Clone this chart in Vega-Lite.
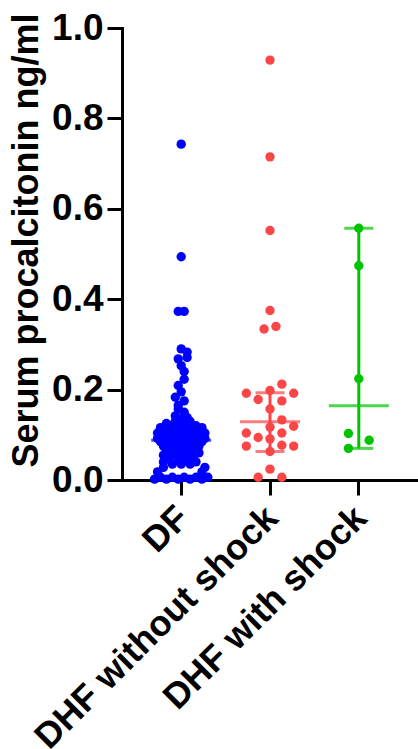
{
  "$schema": "https://vega.github.io/schema/vega-lite/v6.json",
  "width": 296,
  "height": 452,
  "autosize": {"type": "none"},
  "padding": {"left": 122, "top": 28, "right": 0, "bottom": 269},
  "background": "white",
  "config": {
    "view": {"stroke": null},
    "font": "Liberation Sans",
    "axis": {
      "domainColor": "black", "domainWidth": 3, "domainCap": "square",
      "tickColor": "black", "tickWidth": 3, "tickSize": 15,
      "labelColor": "black", "labelFont": "Liberation Sans", "labelFontWeight": "bold",
      "labelFontSize": 37, "grid": false, "labelOverlap": false, "labelBound": false, "labelFlush": false, "labelLimit": 1000,
      "titleColor": "black", "titleFont": "Liberation Sans", "titleFontWeight": "bold"
    }
  },
  "datasets": {
    "points": [
      {"group": "DF", "value": 0.743, "slot": 0},
      {"group": "DF", "value": 0.494, "slot": 0},
      {"group": "DF", "value": 0.373, "slot": -1},
      {"group": "DF", "value": 0.373, "slot": 1},
      {"group": "DF", "value": 0.290, "slot": 0},
      {"group": "DF", "value": 0.283, "slot": 2},
      {"group": "DF", "value": 0.271, "slot": 2},
      {"group": "DF", "value": 0.268, "slot": -1},
      {"group": "DF", "value": 0.253, "slot": 0},
      {"group": "DF", "value": 0.240, "slot": 1},
      {"group": "DF", "value": 0.223, "slot": 1},
      {"group": "DF", "value": 0.209, "slot": -1},
      {"group": "DF", "value": 0.195, "slot": 0},
      {"group": "DF", "value": 0.183, "slot": -2},
      {"group": "DF", "value": 0.175, "slot": 1},
      {"group": "DF", "value": 0.165, "slot": -1},
      {"group": "DF", "value": 0.157, "slot": -1},
      {"group": "DF", "value": 0.150, "slot": 1},
      {"group": "DF", "value": 0.142, "slot": -2},
      {"group": "DF", "value": 0.138, "slot": 2},
      {"group": "DF", "value": 0.135, "slot": 0},
      {"group": "DF", "value": 0.130, "slot": -2},
      {"group": "DF", "value": 0.130, "slot": 3},
      {"group": "DF", "value": 0.125, "slot": -5},
      {"group": "DF", "value": 0.125, "slot": 0},
      {"group": "DF", "value": 0.120, "slot": -3},
      {"group": "DF", "value": 0.120, "slot": 2},
      {"group": "DF", "value": 0.120, "slot": 5},
      {"group": "DF", "value": 0.116, "slot": -7},
      {"group": "DF", "value": 0.116, "slot": -1},
      {"group": "DF", "value": 0.116, "slot": 7},
      {"group": "DF", "value": 0.112, "slot": -4},
      {"group": "DF", "value": 0.112, "slot": 3},
      {"group": "DF", "value": 0.108, "slot": -6},
      {"group": "DF", "value": 0.108, "slot": 0},
      {"group": "DF", "value": 0.108, "slot": 6},
      {"group": "DF", "value": 0.104, "slot": -8},
      {"group": "DF", "value": 0.104, "slot": -2},
      {"group": "DF", "value": 0.104, "slot": 2},
      {"group": "DF", "value": 0.104, "slot": 8},
      {"group": "DF", "value": 0.100, "slot": -4},
      {"group": "DF", "value": 0.100, "slot": 4},
      {"group": "DF", "value": 0.097, "slot": -6},
      {"group": "DF", "value": 0.097, "slot": -1},
      {"group": "DF", "value": 0.097, "slot": 1},
      {"group": "DF", "value": 0.097, "slot": 6},
      {"group": "DF", "value": 0.092, "slot": -8},
      {"group": "DF", "value": 0.092, "slot": -3},
      {"group": "DF", "value": 0.092, "slot": 3},
      {"group": "DF", "value": 0.092, "slot": 8},
      {"group": "DF", "value": 0.088, "slot": -5},
      {"group": "DF", "value": 0.088, "slot": 0},
      {"group": "DF", "value": 0.088, "slot": 5},
      {"group": "DF", "value": 0.085, "slot": -7},
      {"group": "DF", "value": 0.085, "slot": -2},
      {"group": "DF", "value": 0.085, "slot": 2},
      {"group": "DF", "value": 0.085, "slot": 7},
      {"group": "DF", "value": 0.080, "slot": -4},
      {"group": "DF", "value": 0.080, "slot": 0},
      {"group": "DF", "value": 0.080, "slot": 4},
      {"group": "DF", "value": 0.075, "slot": -6},
      {"group": "DF", "value": 0.075, "slot": -1},
      {"group": "DF", "value": 0.075, "slot": 2},
      {"group": "DF", "value": 0.075, "slot": 6},
      {"group": "DF", "value": 0.070, "slot": -3},
      {"group": "DF", "value": 0.070, "slot": 4},
      {"group": "DF", "value": 0.065, "slot": -5},
      {"group": "DF", "value": 0.065, "slot": 1},
      {"group": "DF", "value": 0.060, "slot": -2},
      {"group": "DF", "value": 0.060, "slot": 3},
      {"group": "DF", "value": 0.060, "slot": 6},
      {"group": "DF", "value": 0.055, "slot": -6},
      {"group": "DF", "value": 0.055, "slot": 0},
      {"group": "DF", "value": 0.050, "slot": -4},
      {"group": "DF", "value": 0.050, "slot": 4},
      {"group": "DF", "value": 0.045, "slot": -1},
      {"group": "DF", "value": 0.045, "slot": 2},
      {"group": "DF", "value": 0.040, "slot": -6},
      {"group": "DF", "value": 0.040, "slot": 5},
      {"group": "DF", "value": 0.035, "slot": -3},
      {"group": "DF", "value": 0.035, "slot": 0},
      {"group": "DF", "value": 0.035, "slot": 3},
      {"group": "DF", "value": 0.028, "slot": -6},
      {"group": "DF", "value": 0.028, "slot": 8},
      {"group": "DF", "value": 0.018, "slot": -8},
      {"group": "DF", "value": 0.018, "slot": 7},
      {"group": "DF", "value": 0.006, "slot": -7},
      {"group": "DF", "value": 0.006, "slot": -3},
      {"group": "DF", "value": 0.006, "slot": 1},
      {"group": "DF", "value": 0.006, "slot": 5},
      {"group": "DF", "value": 0.006, "slot": 9},
      {"group": "DF", "value": 0.002, "slot": -9},
      {"group": "DF", "value": 0.002, "slot": -5},
      {"group": "DF", "value": 0.002, "slot": -1},
      {"group": "DF", "value": 0.002, "slot": 3},
      {"group": "DF", "value": 0.002, "slot": 7},
      {"group": "DHF without shock", "value": 0.929, "slot": 0},
      {"group": "DHF without shock", "value": 0.715, "slot": 0},
      {"group": "DHF without shock", "value": 0.552, "slot": 0},
      {"group": "DHF without shock", "value": 0.375, "slot": 0},
      {"group": "DHF without shock", "value": 0.340, "slot": 2},
      {"group": "DHF without shock", "value": 0.334, "slot": -2},
      {"group": "DHF without shock", "value": 0.212, "slot": 4},
      {"group": "DHF without shock", "value": 0.198, "slot": 0},
      {"group": "DHF without shock", "value": 0.192, "slot": -8},
      {"group": "DHF without shock", "value": 0.192, "slot": 8},
      {"group": "DHF without shock", "value": 0.178, "slot": -4},
      {"group": "DHF without shock", "value": 0.175, "slot": 4},
      {"group": "DHF without shock", "value": 0.157, "slot": 0},
      {"group": "DHF without shock", "value": 0.133, "slot": 4},
      {"group": "DHF without shock", "value": 0.119, "slot": 8},
      {"group": "DHF without shock", "value": 0.117, "slot": 0},
      {"group": "DHF without shock", "value": 0.104, "slot": -8},
      {"group": "DHF without shock", "value": 0.104, "slot": 4},
      {"group": "DHF without shock", "value": 0.094, "slot": -4},
      {"group": "DHF without shock", "value": 0.091, "slot": 0},
      {"group": "DHF without shock", "value": 0.077, "slot": 4},
      {"group": "DHF without shock", "value": 0.075, "slot": -8},
      {"group": "DHF without shock", "value": 0.075, "slot": 8},
      {"group": "DHF without shock", "value": 0.063, "slot": 0},
      {"group": "DHF without shock", "value": 0.024, "slot": 0},
      {"group": "DHF without shock", "value": 0.006, "slot": -4},
      {"group": "DHF without shock", "value": 0.006, "slot": 4},
      {"group": "DHF with shock", "value": 0.557, "slot": 0},
      {"group": "DHF with shock", "value": 0.474, "slot": 0},
      {"group": "DHF with shock", "value": 0.224, "slot": 0},
      {"group": "DHF with shock", "value": 0.103, "slot": -3.5},
      {"group": "DHF with shock", "value": 0.088, "slot": 3.5},
      {"group": "DHF with shock", "value": 0.070, "slot": -3.5}
    ],
    "summary": [
      {"group": "DF", "median": 0.088, "lo": 0.05, "hi": 0.125},
      {"group": "DHF without shock", "median": 0.129, "lo": 0.063, "hi": 0.193},
      {"group": "DHF with shock", "median": 0.164, "lo": 0.070, "hi": 0.557}
    ]
  },
  "encoding": {
    "x": {
      "field": "group", "type": "nominal",
      "sort": ["DF", "DHF without shock", "DHF with shock"],
      "scale": {"paddingInner": 0, "paddingOuter": 0.1667},
      "axis": {"title": null, "labelAngle": -45, "labelPadding": 5, "labelOffset": -10, "labelFontSize": 36}
    },
    "color": {
      "field": "group", "type": "nominal",
      "scale": {"domain": ["DF", "DHF without shock", "DHF with shock"], "range": ["#0000FF", "#FA4646", "#00C400"]},
      "legend": null
    }
  },
  "layer": [
    {
      "data": {"name": "points"},
      "mark": {"type": "circle", "size": 88, "opacity": 1},
      "encoding": {
        "xOffset": {"field": "slot", "type": "quantitative", "scale": {"domain": [-15, 15]}},
        "y": {
          "field": "value", "type": "quantitative",
          "title": "Serum procalcitonin ng/ml",
          "scale": {"domain": [0, 1], "nice": false},
          "axis": {
            "values": [0, 0.2, 0.4, 0.6, 0.8, 1.0], "format": ".1f", "labelPadding": 4,
            "titleFontSize": 36, "titleX": -77, "titleY": 212, "titleAngle": -90, "titleBaseline": "bottom", "titleAlign": "center"
          }
        }
      }
    },
    {
      "data": {"name": "summary"},
      "mark": {"type": "rule", "strokeWidth": 3},
      "encoding": {
        "y": {"field": "lo", "type": "quantitative", "title": "Serum procalcitonin ng/ml"},
        "y2": {"field": "hi"}
      }
    },
    {
      "data": {"name": "summary"},
      "mark": {"type": "tick", "size": 29, "thickness": 3},
      "encoding": {
        "y": {"field": "lo", "type": "quantitative", "title": "Serum procalcitonin ng/ml"}
      }
    },
    {
      "data": {"name": "summary"},
      "mark": {"type": "tick", "size": 29, "thickness": 3},
      "encoding": {
        "y": {"field": "hi", "type": "quantitative", "title": "Serum procalcitonin ng/ml"}
      }
    },
    {
      "data": {"name": "summary"},
      "mark": {"type": "tick", "size": 60, "thickness": 3},
      "encoding": {
        "y": {"field": "median", "type": "quantitative", "title": "Serum procalcitonin ng/ml"}
      }
    }
  ]
}
